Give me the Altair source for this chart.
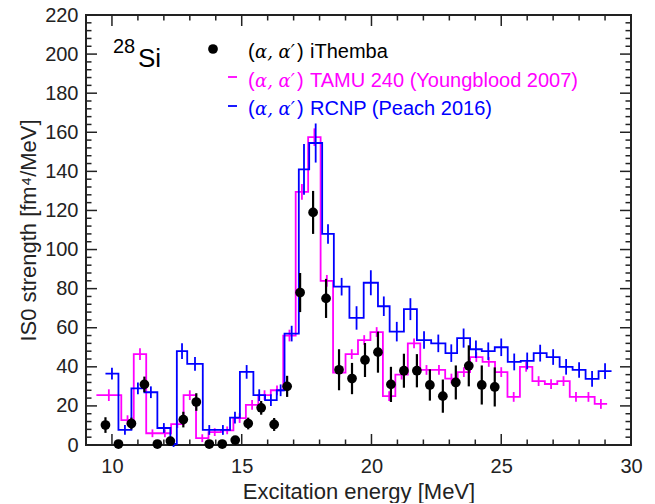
import altair as alt
import pandas as pd

# ---------------- data ----------------
# iThemba (alpha,alpha') points
ith_E = [9.75, 10.25, 10.75, 11.25, 11.75, 12.25, 12.75, 13.25, 13.75, 14.25, 14.75,
         15.25, 15.75, 16.25, 16.75, 17.25, 17.75, 18.25, 18.75, 19.25, 19.75, 20.25,
         20.75, 21.25, 21.75, 22.25, 22.75, 23.25, 23.75, 24.25, 24.75]
ith_S = [10.2, 0.5, 11, 31, 0.5, 2, 13, 22, 0.5, 0.5, 2.5, 11, 19, 10.5, 30, 78, 119,
         75, 38.5, 34, 43.5, 47.5, 31, 38, 38, 30.7, 25, 32, 40.5, 30.7, 29.7]
ith_err = [4, 1.5, 3, 4, 1.5, 1.5, 4, 4.5, 1.5, 1.5, 2, 3, 3.5, 3.3, 5.4, 10, 11, 10,
           10.5, 8, 8.7, 10.5, 9, 8.7, 8.5, 8, 8.5, 8.7, 10.5, 10, 10]

# TAMU 240 (Youngblood 2007) histogram
tamu_edges = [9.40, 10.36, 10.84, 11.32, 11.80, 12.28, 12.76, 13.24, 13.72, 14.20, 14.68,
              15.16, 15.64, 16.12, 16.60, 17.08, 17.56, 18.04, 18.52, 19.00, 19.48, 19.96,
              20.44, 20.92, 21.40, 21.88, 22.36, 22.84, 23.32, 23.80, 24.28, 24.76, 25.24,
              25.72, 26.20, 26.68, 27.16, 27.64, 28.12, 28.60, 29.08]
tamu_S = [25.5, 12.7, 46.5, 6, 6, 10.7, 25.5, 3.5, 6.6, 7.5, 13.8, 20.5, 25.5, 28, 56,
          129.5, 157.5, 84, 37, 46.5, 53.7, 57.8, 25, 36, 52, 38.4, 38.4, 34, 37.3, 45,
          42.5, 37.3, 24.6, 40, 32.7, 31.2, 32.7, 24.6, 24.6, 21]
tamu_err = [3, 2.5, 3, 2, 2, 2, 2.5, 2, 2, 2, 2.5, 2.5, 2.5, 2.5, 3, 4, 4.5, 3, 2.5, 2.5,
            2.5, 2.5, 2.5, 2.5, 2.5, 2.5, 2.5, 2.5, 2.5, 2.5, 2.5, 2.5, 2.5, 2.5, 2.5, 2.5,
            2.5, 2.5, 2.5, 2.5]

# RCNP (Peach 2016) histogram
rcnp_edges = [9.75, 10.25, 10.75, 11.25, 11.75, 12.25, 12.5, 12.9, 13.5, 14.0, 14.55,
              14.93, 15.45, 15.9, 16.35, 16.65, 17.2, 17.6, 18.1, 18.55, 19.15, 19.7,
              20.25, 20.7, 21.25, 21.75, 22.3, 22.85, 23.3, 23.8, 24.25, 24.75, 25.25,
              25.75, 26.25, 26.75, 27.25, 27.75, 28.25, 28.75, 29.25]
rcnp_S = [36.5, 7.7, 29, 27, 8.7, 0.5, 48, 41.5, 7.7, 7.7, 14, 37.4, 25.5, 23, 28, 57,
          141, 154.5, 108, 81, 65, 83, 71, 58, 69.5, 53.7, 52, 47, 54.7, 49, 48, 50,
          42.5, 43, 47, 45, 40, 38.4, 33.8, 37.8]
rcnp_err = [3, 2.5, 3, 3, 2.5, 1.5, 4, 3.5, 2.5, 2.5, 3, 3.5, 3, 3, 3, 4, 13, 10, 5,
            4.5, 6, 6.4, 5, 5, 5.6, 4.5, 4.5, 4.5, 4.9, 4.5, 4.5, 4.5, 4.3, 4.3, 4.3, 4,
            4, 4, 4, 4]

x_major = [10, 15, 20, 25, 30]
x_minor = [9, 11, 12, 13, 14, 16, 17, 18, 19, 21, 22, 23, 24, 26, 27, 28, 29]
y_major = list(range(0, 221, 20))
y_minor = [v for v in range(0, 221, 4) if v % 20 != 0]

legend_labels = ["iThemba", "TAMU 240 (Youngblood 2007)", "RCNP (Peach 2016)"]
legend_colors = ["#000000", "#ff00ff", "#0000ff"]

# ---------------- chart ----------------
W, H = 545, 430
FONT = "Liberation Sans"
INK = "#222222"
MAG = "#ff00ff"
BLU = "#0000ff"

xs = alt.Scale(domain=[9, 30], nice=False, zero=False)
ys = alt.Scale(domain=[0, 220], nice=False, zero=False)

X_AXIS = alt.Axis(
    values=x_major, format="d", ticks=False, tickSize=0, domain=False, grid=False,
    labelFlush=False, labelOverlap=False,
    labelFont=FONT, labelFontSize=20, labelColor=INK, labelPadding=11,
    title="Excitation energy [MeV]", titleFont=FONT, titleFontSize=22,
    titleFontWeight="normal", titleColor=INK, titleX=W / 2, titleY=53,
    titleBaseline="alphabetic", titleAlign="center")
Y_AXIS = alt.Axis(
    values=y_major, format="d", ticks=False, tickSize=0, domain=False, grid=False,
    labelFlush=False, labelOverlap=False,
    labelFont=FONT, labelFontSize=20, labelColor=INK, labelPadding=8,
    title="IS0 strength [fm⁴/MeV]", titleFont=FONT, titleFontSize=22,
    titleFontWeight="normal", titleColor=INK, titleX=-51, titleY=H / 2,
    titleAngle=270, titleBaseline="alphabetic", titleAlign="center")


def X(field):
    return alt.X(field, scale=xs, axis=X_AXIS)


def Y(field):
    return alt.Y(field, scale=ys, axis=Y_AXIS)


def step_frame(edges, vals):
    rows = []
    for i, v in enumerate(vals):
        rows.append({"o": 2 * i, "E": edges[i], "S": v})
        rows.append({"o": 2 * i + 1, "E": edges[i + 1], "S": v})
    return pd.DataFrame(rows)


def err_frame(edges, vals, errs):
    return pd.DataFrame({
        "E": [(edges[i] + edges[i + 1]) / 2 for i in range(len(vals))],
        "lo": [v - e for v, e in zip(vals, errs)],
        "hi": [v + e for v, e in zip(vals, errs)],
    })


def hist_layers(edges, vals, errs, color):
    line = alt.Chart(step_frame(edges, vals)).mark_line(
        color=color, strokeWidth=1.8, interpolate="linear"
    ).encode(x=X("E:Q"), y=Y("S:Q"), order="o:Q")
    err = alt.Chart(err_frame(edges, vals, errs)).mark_rule(
        color=color, strokeWidth=1.8
    ).encode(x=X("E:Q"), y=Y("lo:Q"), y2="hi:Q")
    return [line, err]


def xticks(vals, length):
    df = pd.DataFrame({"E": vals})
    bottom = alt.Chart(df).mark_rule(color=INK, strokeWidth=1.5).encode(
        x=X("E:Q"), y=alt.value(H), y2=alt.value(H - length))
    top = alt.Chart(df).mark_rule(color=INK, strokeWidth=1.5).encode(
        x=X("E:Q"), y=alt.value(0), y2=alt.value(length))
    return [bottom, top]


def yticks(vals, length):
    df = pd.DataFrame({"S": vals})
    left = alt.Chart(df).mark_rule(color=INK, strokeWidth=1.5).encode(
        y=Y("S:Q"), x=alt.value(0), x2=alt.value(length))
    right = alt.Chart(df).mark_rule(color=INK, strokeWidth=1.5).encode(
        y=Y("S:Q"), x=alt.value(W), x2=alt.value(W - length))
    return [left, right]


ith_df = pd.DataFrame({"E": ith_E, "S": ith_S,
                       "lo": [s - e for s, e in zip(ith_S, ith_err)],
                       "hi": [s + e for s, e in zip(ith_S, ith_err)]})
ith_err_layer = alt.Chart(ith_df).mark_rule(color="black", strokeWidth=2.2).encode(
    x=X("E:Q"), y=Y("lo:Q"), y2="hi:Q")
ith_pts = alt.Chart(ith_df).mark_point(
    filled=True, shape="circle", size=95, color="black", opacity=1
).encode(x=X("E:Q"), y=Y("S:Q"))


def text_at(txt, x, y, size, color, **kw):
    return alt.Chart(pd.DataFrame({"t": [txt]})).mark_text(
        align="left", baseline="alphabetic", fontSize=size, color=color, **kw
    ).encode(text="t:N", x=alt.value(x), y=alt.value(y))


legend = []
row_base = [43, 72, 100]
for lab, col, yb in zip(legend_labels, legend_colors, row_base):
    legend.append(text_at("(", 162, yb, 20, col, font=FONT))
    legend.append(text_at("α, α′", 169, yb, 18, col, font="DejaVu Serif", fontStyle="italic"))
    legend.append(text_at(")", 211, yb, 20, col, font=FONT))
    legend.append(text_at(lab, 224, yb, 20, col, font=FONT))
legend.append(alt.Chart(pd.DataFrame({"k": [0]})).mark_point(
    filled=True, shape="circle", size=95, color="black", opacity=1
).encode(x=alt.value(127), y=alt.value(34)))
for col, yy in zip(legend_colors[1:], [62, 91]):
    legend.append(alt.Chart(pd.DataFrame({"k": [0]})).mark_rule(color=col, strokeWidth=1.8).encode(
        x=alt.value(142), x2=alt.value(151), y=alt.value(yy)))

legend.append(text_at("28", 27, 38, 20, "black", font=FONT))
legend.append(text_at("Si", 52, 52, 26, "black", font=FONT))

layers = []
layers += hist_layers(tamu_edges, tamu_S, tamu_err, MAG)
layers += hist_layers(rcnp_edges, rcnp_S, rcnp_err, BLU)
layers += [ith_err_layer, ith_pts]
layers += xticks(x_major, 11) + xticks(x_minor, 5.5)
layers += yticks(y_major, 11) + yticks(y_minor, 5.5)
layers += legend

chart = alt.layer(*layers).properties(
    width=W, height=H,
    autosize=alt.AutoSizeParams(type="none"),
    padding={"left": 78, "top": 7, "right": 16, "bottom": 58},
    background="white",
).configure_view(stroke=INK, strokeWidth=2)

chart.save("out.html", embed_options={"renderer": "svg", "actions": False})
